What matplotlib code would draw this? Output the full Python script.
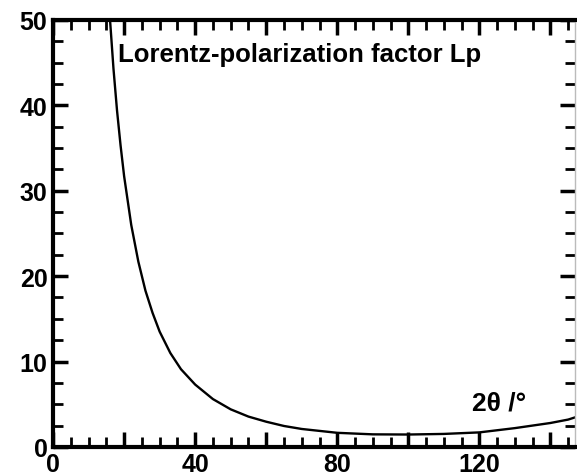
import numpy as np
import matplotlib
matplotlib.use("Agg")
import matplotlib.pyplot as plt
from matplotlib.ticker import MultipleLocator, FuncFormatter

# values (2theta in degrees, Lp)
two_theta = [15, 16, 17, 18, 19, 20, 22, 24, 26, 28, 30, 33, 36, 40, 45, 50, 55, 60, 65,
             70, 80, 90, 100, 110, 120, 130, 140, 145, 148]
lp = [57.2, 50.2, 44.3, 39.4, 35.3, 31.7, 26.0, 21.7, 18.3, 15.7, 13.5, 11.0, 9.1, 7.3, 5.6,
      4.4, 3.55, 2.95, 2.45, 2.1, 1.65, 1.47, 1.45, 1.52, 1.7, 2.2, 2.8, 3.2, 3.6]

title_text = "Lorentz-polarization factor Lp"
xlabel_text = "2θ /°"

plt.rcParams["font.family"] = ["Liberation Sans", "DejaVu Sans"]
plt.rcParams["font.weight"] = "bold"

fig = plt.figure(figsize=(5.77, 4.77), dpi=100)
ax = fig.add_axes([0.092, 0.061, 0.905, 0.895])

ax.plot(two_theta, lp, color="black", lw=1.7, solid_joinstyle="round")

ax.set_xlim(0, 147)
ax.set_ylim(0, 50)

ax.xaxis.set_major_locator(MultipleLocator(20))
ax.xaxis.set_minor_locator(MultipleLocator(5))
ax.yaxis.set_major_locator(MultipleLocator(10))
ax.yaxis.set_minor_locator(MultipleLocator(2.5))
ax.xaxis.set_major_formatter(FuncFormatter(lambda v, p: f"{v:.0f}" if v % 40 == 0 else ""))

ax.tick_params(which="both", direction="in", top=True, right=True, labelsize=18, pad=4)
ax.tick_params(which="major", length=11, width=2.5)
ax.tick_params(which="minor", length=7, width=2)

for s in ["left", "bottom", "top"]:
    ax.spines[s].set_linewidth(3)
ax.spines["right"].set_linewidth(1)
ax.spines["right"].set_color("#bbbbbb")

ax.text(0.125, 0.948, title_text, transform=ax.transAxes, fontsize=18.5,
        fontweight="bold", va="top", ha="left")
ax.text(0.803, 0.075, xlabel_text, transform=ax.transAxes, fontsize=19,
        fontweight="bold", va="bottom", ha="left")

fig.savefig("out.png", dpi=100)
